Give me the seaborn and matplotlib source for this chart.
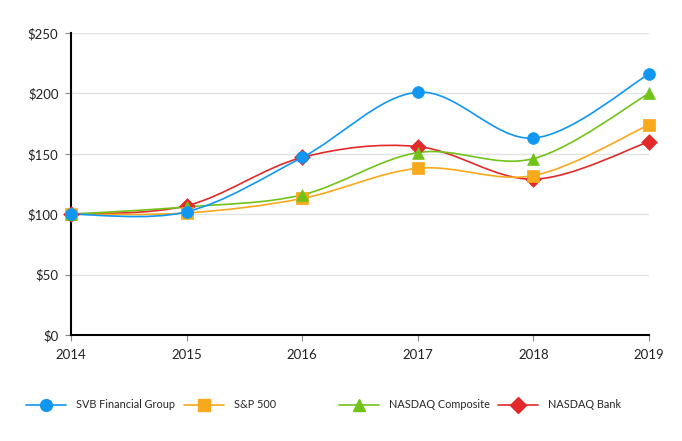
import numpy as np
import pandas as pd
import matplotlib
matplotlib.use("Agg")
import matplotlib.pyplot as plt
from matplotlib.path import Path
from matplotlib.patches import PathPatch
from matplotlib.lines import Line2D
from matplotlib.ticker import FuncFormatter
import seaborn as sns

# data
years = [2014, 2015, 2016, 2017, 2018, 2019]
svb = [100, 102, 147, 201, 163, 216]
sp500 = [100, 101, 113, 138, 132, 174]
nasdaq_comp = [100, 106, 116, 151, 146, 200]
nasdaq_bank = [100, 107, 147, 156, 129, 160]

series_names = ["SVB Financial Group", "S&P 500", "NASDAQ Composite", "NASDAQ Bank"]
series_vals = [svb, sp500, nasdaq_comp, nasdaq_bank]
colors = ["#1196F2", "#F8A91C", "#72C21A", "#E32A2A"]
markers = ["o", "s", "^", "D"]
msizes = [8.5, 8, 8.5, 8]
draw_order = [3, 1, 2, 0]  # bank first, svb on top


def smooth_path(x, y):
    # excel-style smoothed line: catmull-rom segments as cubic beziers
    x = np.asarray(x, float)
    y = np.asarray(y, float)
    px = np.concatenate([[x[0]], x, [x[-1]]])
    py = np.concatenate([[y[0]], y, [y[-1]]])
    verts = [(x[0], y[0])]
    codes = [Path.MOVETO]
    for i in range(len(x) - 1):
        j = i + 1
        c1 = (px[j] + (px[j + 1] - px[j - 1]) / 6, py[j] + (py[j + 1] - py[j - 1]) / 6)
        c2 = (px[j + 1] - (px[j + 2] - px[j]) / 6, py[j + 1] - (py[j + 2] - py[j]) / 6)
        verts += [c1, c2, (x[i + 1], y[i + 1])]
        codes += [Path.CURVE4] * 3
    return Path(verts, codes)


sns.set_style("white")
plt.rcParams["font.family"] = ["Lato", "DejaVu Sans"]

fig = plt.figure(figsize=(6.82, 4.41), dpi=100)
ax = fig.add_axes([71 / 682, 1 - 335 / 441, (649 - 71) / 682, (335 - 33) / 441])

df = pd.DataFrame({"year": years})
for k in draw_order:
    df[series_names[k]] = series_vals[k]
    patch = PathPatch(smooth_path(years, series_vals[k]), fill=False,
                      edgecolor=colors[k], lw=1.2, zorder=2)
    ax.add_patch(patch)
    sns.scatterplot(data=df, x="year", y=series_names[k], ax=ax, marker=markers[k],
                    s=msizes[k] ** 2, color=colors[k], edgecolor=colors[k],
                    linewidth=0.5, zorder=3, legend=False, clip_on=False)

ax.set_xlim(2014, 2019)
ax.set_ylim(0, 250)
ax.set_xticks(years)
ax.set_yticks([0, 50, 100, 150, 200, 250])
ax.yaxis.set_major_formatter(FuncFormatter(lambda v, p: f"${v:.0f}"))
ax.set_xlabel("")
ax.set_ylabel("")
ax.grid(axis="y", color="#E3E3E3", lw=1)
ax.set_axisbelow(True)
for s in ["top", "right"]:
    ax.spines[s].set_visible(False)
for s in ["left", "bottom"]:
    ax.spines[s].set_color("black")
    ax.spines[s].set_linewidth(1.5)
ax.tick_params(axis="both", labelsize=9.5, length=4, width=0.8,
               direction="out", bottom=True, left=True)
ax.tick_params(axis="x", pad=6, colors="#888888", labelcolor="#222222")
ax.tick_params(axis="y", pad=5, colors="#888888", labelcolor="#222222")

# legend, one entry per slot across the bottom
legend_x = [26, 184, 339, 498]
for k in range(4):
    h = Line2D([0], [0], color=colors[k], lw=1.2, marker=markers[k],
               markersize=msizes[k], markerfacecolor=colors[k], markeredgecolor=colors[k])
    fig.legend(handles=[h], labels=[series_names[k]], loc="center left",
               bbox_to_anchor=(legend_x[k] / 682, 1 - 405 / 441), frameon=False,
               fontsize=7.8, handlelength=3.7, handletextpad=0.93,
               borderpad=0, borderaxespad=0)

fig.savefig("out.png", dpi=100)
